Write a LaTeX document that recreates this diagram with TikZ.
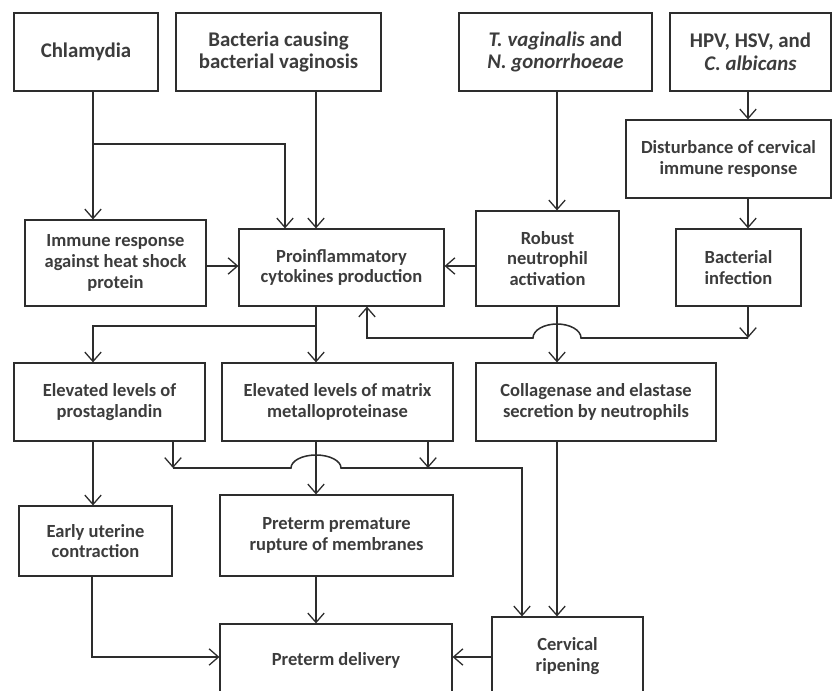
\documentclass[tikz,border=0pt]{standalone}
\usepackage{fontspec}
\setmainfont{Carlito}
\usepackage{tikz}
\usetikzlibrary{arrows.meta, positioning, calc}
\definecolor{mydark}{RGB}{45,45,45}
\definecolor{mytext}{RGB}{60,60,60}
\tikzset{
  block/.style={rectangle, draw=mydark, fill=white, align=center,
    inner sep=2pt, line width=1pt, text=mytext,
    font=\fontsize{15.8}{17.8}\selectfont\bfseries},
  topblock/.style={block, font=\fontsize{17.8}{19.5}\selectfont\bfseries},
  arrow/.style={-{Straight Barb[length=8pt,width=14pt,line width=1.1pt]}, line width=1.3pt, color=mydark},
  line/.style={line width=1.3pt, color=mydark}
}

\begin{document}
\begin{tikzpicture}[x=0.03cm, y=-0.03cm]
  \useasboundingbox (0,0) rectangle (834,690);
  \clip (0,0) rectangle (834,690);

  % Row 1: pathogens
  \node[topblock, minimum width=4.32cm, minimum height=2.34cm] (chlam) at (86,52) {Chlamydia};
  \node[topblock, minimum width=6.15cm, minimum height=2.34cm] (bv) at (278.5,52) {Bacteria causing\\bacterial vaginosis};
  \node[topblock, minimum width=5.79cm, minimum height=2.34cm] (tvag) at (555.5,52) {\textit{T. vaginalis} and\\\textit{N. gonorrhoeae}};
  \node[topblock, minimum width=4.83cm, minimum height=2.34cm] (hpv) at (750.5,52) {HPV, HSV, and\\\textit{C. albicans}};
  \node[block, minimum width=6.15cm, minimum height=2.34cm] (dist) at (728.5,159) {Disturbance of cervical\\immune response};

  % Row 2: host response
  \node[block, minimum width=5.43cm, minimum height=2.58cm] (immune) at (115.5,263) {Immune response\\against heat shock\\protein};
  \node[block, minimum width=6.15cm, minimum height=2.31cm] (proinf) at (341.5,267.5) {Proinflammatory\\cytokines production};
  \node[block, minimum width=4.29cm, minimum height=2.85cm] (robust) at (547.5,258.5) {Robust\\neutrophil\\activation};
  \node[block, minimum width=3.75cm, minimum height=2.31cm] (bact) at (738.5,267.5) {Bacterial\\infection};

  % Row 3: mediators
  \node[block, minimum width=5.73cm, minimum height=2.34cm] (prost) at (109.5,402) {Elevated levels of\\prostaglandin};
  \node[block, minimum width=6.93cm, minimum height=2.34cm] (mmp) at (337.5,402) {Elevated levels of matrix\\metalloproteinase};
  \node[block, minimum width=7.2cm, minimum height=2.34cm] (coll) at (596,402) {Collagenase and elastase\\secretion by neutrophils};

  % Row 4: outcomes
  \node[block, minimum width=4.59cm, minimum height=2.1cm] (early) at (95.5,541) {Early uterine\\contraction};
  \node[block, minimum width=6.99cm, minimum height=2.43cm] (pprom) at (336.5,535.5) {Preterm premature\\rupture of membranes};
  \node[block, minimum width=6.96cm, minimum height=2.16cm] (deliv) at (336,660) {Preterm delivery};
  \node[block, minimum width=4.53cm, minimum height=2.34cm] (cerv) at (567.5,656) {Cervical\\ripening};

  % Junctions
  \coordinate (brchl) at (93,144);
  \coordinate (brin) at (285,144);
  \coordinate (rowb) at (0,266);
  \coordinate (colc) at (316,326);
  \coordinate (hopa) at (557,338);
  \coordinate (cole) at (748,338);
  \coordinate (colf) at (367,338);
  \coordinate (hopb) at (316,468);
  \coordinate (colg) at (173,468);
  \coordinate (colh) at (428,468);
  \coordinate (coli) at (522,468);
  \coordinate (rowf) at (92,657);

  % Chlamydia and bacterial vaginosis
  \draw[arrow] (chlam.south -| brchl) -- (immune.north -| brchl);
  \draw[arrow] (brchl) -- (brin) -- (proinf.north -| brin);
  \draw[arrow] (bv.south -| colc) -- (proinf.north -| colc);
  \draw[arrow] (immune.east |- rowb) -- (proinf.west |- rowb);

  % T. vaginalis chain
  \draw[arrow] (tvag.south -| hopa) -- (robust.north -| hopa);
  \draw[arrow] (robust.west |- rowb) -- (proinf.east |- rowb);
  \draw[arrow] (robust.south -| hopa) -- (coll.north -| hopa);
  \draw[arrow] (coll.south -| hopa) -- (cerv.north -| hopa);

  % HPV chain, back to proinflammatory
  \draw[arrow] (hpv.south -| cole) -- (dist.north -| cole);
  \draw[arrow] (dist.south -| cole) -- (bact.north -| cole);
  \draw[arrow] (bact.south -| cole) -- (cole);
  \draw[arrow] (cole) -- ([xshift=0.72cm]hopa)
    arc[start angle=0, end angle=180, x radius=0.72cm, y radius=0.42cm]
    -- (colf) -- (proinf.south -| colf);

  % Proinflammatory split
  \draw[line] (proinf.south -| colc) -- (colc);
  \draw[arrow] (colc) -- (colc -| brchl) -- (prost.north -| brchl);
  \draw[arrow] (colc) -- (mmp.north -| colc);

  % Towards cervical ripening
  \draw[arrow] (prost.south -| colg) -- (colg);
  \draw[arrow] (mmp.south -| colh) -- (colh);
  \draw[arrow] (colg) -- ([xshift=-0.75cm]hopb)
    arc[start angle=180, end angle=0, x radius=0.75cm, y radius=0.39cm]
    -- (coli) -- (cerv.north -| coli);

  % Outcomes
  \draw[arrow] (prost.south -| brchl) -- (early.north -| brchl);
  \draw[arrow] (mmp.south -| colc) -- (pprom.north -| colc);
  \draw[arrow] (pprom.south -| colc) -- (deliv.north -| colc);
  \draw[arrow] (early.south -| rowf) -- (rowf) -- (deliv.west |- rowf);
  \draw[arrow] (cerv.west |- rowf) -- (deliv.east |- rowf);
\end{tikzpicture}
\end{document}
